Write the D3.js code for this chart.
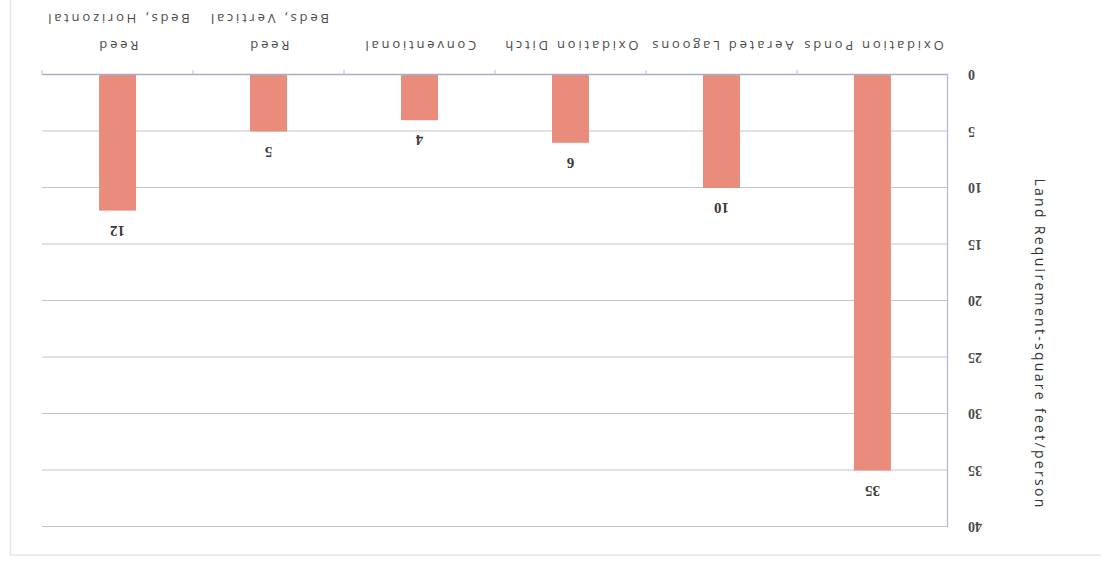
<!DOCTYPE html>
<html>
<head>
<meta charset="utf-8">
<script src="https://cdn.jsdelivr.net/npm/d3@7"></script>
<style>
  html, body { margin: 0; padding: 0; background: #fff; }
  svg { display: block; }
</style>
</head>
<body>
<svg id="chart" width="1101" height="563"></svg>
<script>
// Land requirement per treatment technology (square feet per person)
const categories = [
  ["Oxidation Ponds"],
  ["Aerated Lagoons"],
  ["Oxidation Ditch"],
  ["Conventional"],
  ["Reed", "Beds, Vertical"],
  ["Reed", "Beds, Horizontal"]
];
const values = [35, 10, 6, 4, 5, 12];
const yTicks = [0, 5, 10, 15, 20, 25, 30, 35, 40];
const yTitle = "Land Requirement-square feet/person";

const W = 1101, H = 563;
const svg = d3.select("#chart");

// faint frame of the chart area
svg.append("rect")
  .attr("x", 10.5).attr("y", -2).attr("width", W + 4).attr("height", 557)
  .attr("fill", "none").attr("stroke", "#e4e6ee").attr("stroke-width", 1.5);

// the whole chart is drawn turned upside down
const g = svg.append("g")
  .attr("transform", `rotate(180, ${W / 2}, ${H / 2})`);

const plot = { left: 153, right: 1059, top: 36, bottom: 488 };

const x = d3.scaleBand()
  .domain(d3.range(categories.length))
  .range([plot.left, plot.right])
  .paddingInner(0.755)
  .paddingOuter(0.378);

const xOuter = d3.scaleBand()
  .domain(d3.range(categories.length))
  .range([plot.left, plot.right]);

const y = d3.scaleLinear().domain([0, 40]).range([plot.bottom, plot.top]);

// gridlines
g.append("g")
  .selectAll("line")
  .data(yTicks.filter(d => d > 0))
  .join("line")
  .attr("x1", plot.left).attr("x2", plot.right)
  .attr("y1", d => y(d) + 0.5).attr("y2", d => y(d) + 0.5)
  .attr("stroke", "#c4c4cc").attr("stroke-width", 1.2);

// bars
g.append("g")
  .selectAll("rect")
  .data(values)
  .join("rect")
  .attr("x", (d, i) => x(i))
  .attr("width", x.bandwidth())
  .attr("y", d => y(d))
  .attr("height", d => y(0) - y(d))
  .attr("fill", "#ea8c7c");

// value labels
g.append("g")
  .selectAll("text")
  .data(values)
  .join("text")
  .attr("x", (d, i) => x(i) + x.bandwidth() / 2)
  .attr("y", d => y(d) - 15)
  .attr("text-anchor", "middle")
  .attr("font-family", "Liberation Serif, serif")
  .attr("font-weight", "bold")
  .attr("font-size", 15)
  .attr("fill", "#3a3a3a")
  .text(d => d);

// category axis with tick marks between groups
const xAxis = g.append("g")
  .attr("transform", `translate(0, ${plot.bottom})`);
xAxis.append("line")
  .attr("x1", plot.left).attr("x2", plot.right)
  .attr("y1", 0.5).attr("y2", 0.5)
  .attr("stroke", "#a8aec8").attr("stroke-width", 1.3);
xAxis.selectAll("line.tick")
  .data(d3.range(1, categories.length + 1))
  .join("line")
  .attr("class", "tick")
  .attr("x1", i => (i < categories.length ? xOuter(i) : plot.right))
  .attr("x2", i => (i < categories.length ? xOuter(i) : plot.right))
  .attr("y1", 0).attr("y2", 5)
  .attr("stroke", "#b8bcd0");

// category labels
const labels = xAxis.selectAll("text")
  .data(categories)
  .join("text")
  .attr("text-anchor", "middle")
  .attr("font-family", "Open Sans, sans-serif")
  .attr("font-size", 13)
  .attr("letter-spacing", 2.8)
  .attr("fill", "#4a4a4a");
labels.selectAll("tspan")
  .data((d, i) => d.map(line => ({ line, i })))
  .join("tspan")
  .attr("x", d => xOuter(d.i) + xOuter.bandwidth() / 2)
  .attr("y", (d, j) => 34 + j * 27)
  .text(d => d.line);

// value axis
const yAxis = g.append("g");
yAxis.append("line")
  .attr("x1", plot.left + 0.5).attr("x2", plot.left + 0.5)
  .attr("y1", plot.top).attr("y2", plot.bottom)
  .attr("stroke", "#b4b4e0").attr("stroke-width", 1.3);
yAxis.selectAll("text")
  .data(yTicks)
  .join("text")
  .attr("x", plot.left - 20)
  .attr("y", d => y(d))
  .attr("dy", "0.35em")
  .attr("text-anchor", "end")
  .attr("font-family", "Liberation Serif, serif")
  .attr("font-weight", "bold")
  .attr("font-size", 14)
  .attr("fill", "#4a4a4a")
  .text(d => d);

// value axis title
g.append("text")
  .attr("transform", `translate(61, 219) rotate(-90)`)
  .attr("text-anchor", "middle")
  .attr("dy", "0.35em")
  .attr("font-family", "Open Sans, sans-serif")
  .attr("font-size", 14)
  .attr("letter-spacing", 2.3)
  .attr("fill", "#333")
  .text(yTitle);
</script>
</body>
</html>
